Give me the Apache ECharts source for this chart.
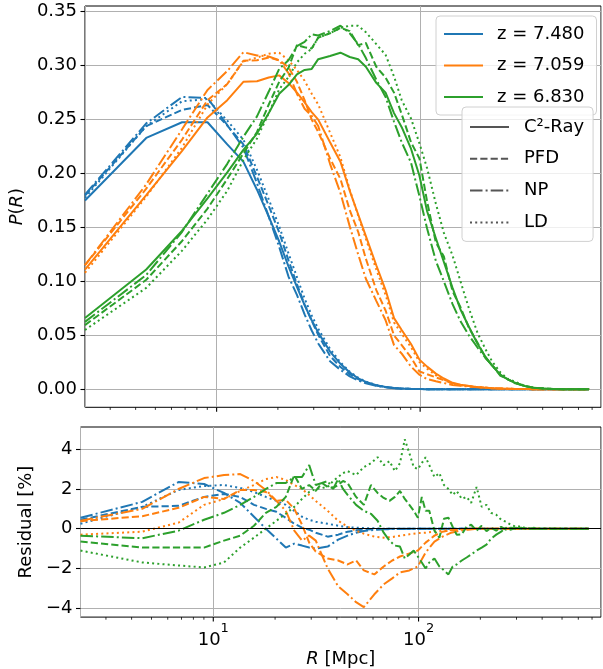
<!DOCTYPE html>
<html><head><meta charset="utf-8">
<script src="https://cdn.jsdelivr.net/npm/echarts@6/dist/echarts.min.js"></script>
<style>html,body{margin:0;padding:0;background:#fff}#c{width:603px;height:669px}</style>
</head><body><div id="c"></div>
<script>
// ---------------- data ----------------
const R = [2.255,4.51,6.765,9.02,11.28,13.53,15.79,18.04,20.3,22.55,24.81,27.06,29.32,31.57,36.08,40.59,45.1,49.61,54.12,60.89,67.65,74.42,81.18,90.2,99.22,108.2,119.5,130.8,144.3,157.9,173.6,191.7,209.7,225.5,248.1,270.6,293.2,327,360.8,405.9,451,507.4,563.8,620.1,676.5];
// finer R sampling used for the (noisy) z = 6.830 residual curves
const Rg = [2.255,4.51,6.765,9.02,11.28,13.53,15.79,18.04,20.3,22.55,24.81,27.06,29.32,31.57,33.83,36.08,38.34,40.59,42.85,45.1,49.61,54.12,58.63,63.14,67.65,72.16,76.67,81.18,85.69,90.2,94.71,99.22,103.7,108.2,112.8,119.5,126.3,133,139.8,146.6,153.3,162.4,171.4,180.4,191.7,203,214.2,225.5,239,252.6,266.1,281.9,297.7,315.7,338.3,360.8,394.6,428.5,473.6,541.2,608.9,676.5];

const zLabels = ['z = 7.480','z = 7.059','z = 6.830'];
const methodLabels = ['C\u00b2-Ray','PFD','NP','LD'];

const blueC2  = [0.175,0.233,0.2475,0.2475,0.227,0.211,0.185,0.160,0.137,0.114,0.095,0.078,0.064,0.0525,0.035,0.0236,0.0155,0.0102,0.0068,0.0038,0.0021,0.0012,0.0007,0.0004,0.0002,0.0001,0.0001,0,0,0,0,0,0,0,0,0,0,0,0,0,0,0,0,0,0];
const bluePFD = [0.1795,0.244,0.259,0.2635,0.2445,0.227,0.197,0.170,0.1455,0.1195,0.0975,0.0785,0.0635,0.0505,0.031,0.0206,0.014,0.0094,0.0063,0.0035,0.002,0.0011,0.0006,0.0003,0.0002,0.0001,0.0001,0,0,0,0,0,0,0,0,0,0,0,0,0,0,0,0,0,0];
const blueNP  = [0.1805,0.2465,0.271,0.270,0.245,0.224,0.191,0.160,0.132,0.1045,0.0875,0.0695,0.0545,0.0425,0.026,0.018,0.012,0.0082,0.0056,0.0032,0.0018,0.001,0.0006,0.0003,0.0002,0.0001,0,0,0,0,0,0,0,0,0,0,0,0,0,0,0,0,0,0,0];
const blueLD  = [0.1775,0.244,0.267,0.269,0.249,0.2315,0.2035,0.176,0.151,0.126,0.104,0.084,0.0685,0.056,0.0375,0.025,0.0163,0.0107,0.0071,0.004,0.0022,0.0012,0.0007,0.0004,0.0002,0.0001,0.0001,0,0,0,0,0,0,0,0,0,0,0,0,0,0,0,0,0,0];

const orangeC2  = [0.111,0.180,0.221,0.252,0.268,0.285,0.2855,0.289,0.291,0.284,0.275,0.266,0.257,0.250,0.229,0.211,0.184,0.162,0.142,0.115,0.092,0.066,0.055,0.042,0.0275,0.021,0.0145,0.010,0.006,0.0043,0.003,0.002,0.0015,0.001,0.0007,0.0005,0.0003,0.0002,0.0001,0.0001,0,0,0,0,0];
const orangePFD = [0.115,0.186,0.2315,0.268,0.283,0.3045,0.305,0.3075,0.305,0.2985,0.285,0.268,0.250,0.2385,0.214,0.195,0.166,0.146,0.121,0.092,0.073,0.050,0.041,0.0295,0.0165,0.014,0.011,0.0085,0.0052,0.0038,0.003,0.002,0.0015,0.001,0.0007,0.0005,0.0003,0.0002,0.0001,0.0001,0,0,0,0,0];
const orangeNP  = [0.115,0.190,0.241,0.2775,0.295,0.3125,0.3095,0.3085,0.305,0.293,0.274,0.260,0.2535,0.244,0.209,0.182,0.151,0.125,0.1025,0.082,0.064,0.041,0.033,0.021,0.0135,0.0095,0.0075,0.0058,0.004,0.0033,0.0025,0.002,0.0015,0.001,0.0007,0.0005,0.0003,0.0002,0.0001,0.0001,0,0,0,0,0];
const orangeLD  = [0.108,0.1785,0.224,0.264,0.283,0.304,0.3075,0.311,0.312,0.305,0.296,0.286,0.274,0.264,0.238,0.215,0.185,0.161,0.1395,0.111,0.0875,0.062,0.0515,0.039,0.0253,0.019,0.013,0.009,0.0055,0.004,0.003,0.002,0.0015,0.001,0.0007,0.0005,0.0003,0.0002,0.0001,0.0001,0,0,0,0,0];

const greenC2  = [0.066,0.111,0.147,0.177,0.201,0.222,0.237,0.256,0.274,0.282,0.292,0.296,0.297,0.306,0.309,0.312,0.308,0.306,0.299,0.284,0.275,0.256,0.243,0.223,0.198,0.165,0.140,0.118,0.094,0.074,0.058,0.042,0.030,0.022,0.0135,0.009,0.006,0.003,0.0015,0.0007,0.0003,0.0001,0,0,0];
const greenPFD = [0.0595,0.1015,0.1375,0.1675,0.195,0.2185,0.2385,0.264,0.285,0.298,0.319,0.317,0.316,0.326,0.330,0.335,0.332,0.319,0.321,0.299,0.289,0.275,0.255,0.229,0.214,0.174,0.136,0.123,0.091,0.076,0.057,0.043,0.029,0.0225,0.0135,0.009,0.006,0.003,0.0015,0.0007,0.0003,0.0001,0,0,0];
const greenNP  = [0.0625,0.106,0.146,0.1815,0.209,0.234,0.253,0.276,0.297,0.305,0.318,0.322,0.329,0.328,0.332,0.337,0.330,0.320,0.307,0.287,0.271,0.248,0.229,0.210,0.179,0.149,0.119,0.100,0.079,0.063,0.050,0.0385,0.029,0.0225,0.0125,0.0095,0.0055,0.003,0.0015,0.0007,0.0003,0.0001,0,0,0];
const greenLD  = [0.055,0.094,0.1285,0.1575,0.184,0.2125,0.2325,0.256,0.278,0.2895,0.303,0.311,0.3155,0.326,0.330,0.335,0.337,0.337,0.331,0.320,0.310,0.290,0.268,0.251,0.228,0.205,0.172,0.145,0.124,0.100,0.075,0.052,0.037,0.026,0.0155,0.0095,0.007,0.003,0.0015,0.0007,0.0003,0.0001,0,0,0];

// residuals [%] (on R)
const resBluePFD = [0.45,1.1,1.15,1.6,1.75,1.6,1.2,1.0,0.85,0.55,0.25,0.05,-0.05,-0.2,-0.4,-0.3,-0.15,-0.08,-0.05,-0.03,-0.01,0,0,0,0,0,0,0,0,0,0,0,0,0,0,0,0,0,0,0,0,0,0,0,0];
const resBlueNP  = [0.55,1.35,2.35,2.25,1.8,1.3,0.6,0,-0.5,-0.95,-0.75,-0.85,-0.95,-1.0,-0.9,-0.55,-0.35,-0.2,-0.12,-0.06,-0.03,-0.02,-0.01,0,0,0,0,0,0,0,0,0,0,0,0,0,0,0,0,0,0,0,0,0,0];
const resBlueLD  = [0.25,1.1,1.95,2.15,2.2,2.05,1.85,1.6,1.4,1.2,0.9,0.6,0.45,0.35,0.25,0.15,0.08,0.05,0.03,0.02,0,0,0,0,0,0,0,0,0,0,0,0,0,0,0,0,0,0,0,0,0,0,0,0,0];
const resOrangePFD = [0.38,0.63,1.05,1.6,1.5,1.95,1.95,1.85,1.4,1.45,1.0,0.2,-0.7,-1.15,-1.5,-1.6,-1.8,-1.6,-2.1,-2.3,-1.9,-1.6,-1.4,-1.25,-1.1,-0.7,-0.35,-0.15,-0.08,-0.05,0,0,0,0,0,0,0,0,0,0,0,0,0,0,0];
const resOrangeNP  = [0.4,1.0,2.0,2.55,2.7,2.75,2.4,1.95,1.4,0.9,-0.1,-0.6,-0.35,-0.6,-2.0,-2.9,-3.3,-3.7,-3.95,-3.3,-2.8,-2.5,-2.2,-2.1,-1.9,-1.2,-0.65,-0.4,-0.2,-0.1,-0.05,0,0,0,0,0,0,0,0,0,0,0,0,0,0];
const resOrangeLD  = [-0.3,-0.15,0.3,1.2,1.5,1.9,2.2,2.5,2.6,2.45,2.2,2.0,1.7,1.4,0.9,0.4,0.1,-0.1,-0.25,-0.4,-0.45,-0.42,-0.35,-0.28,-0.22,-0.2,-0.15,-0.1,-0.06,-0.03,0,0,0,0,0,0,0,0,0,0,0,0,0,0,0];
// residuals [%] (on Rg)
const resGreenPFD = [-0.65,-0.95,-0.95,-0.95,-0.6,-0.35,0.15,0.8,1.1,1.6,2.7,2.0,2.2,1.9,2.3,2.1,2.05,2.2,2.4,2.3,1.6,1.2,2.2,1.8,1.55,1.4,1.6,1.9,1.5,1.2,0.9,0.55,1.6,0.9,0.9,-0.1,-0.45,0.5,0.55,0.1,-0.3,-0.28,0.1,0.2,-0.1,0.15,-0.12,0.05,-0.1,0.1,-0.05,0.05,0,0.05,-0.03,0.02,0,0,0,0,0,0];
const resGreenNP  = [-0.35,-0.48,-0.1,0.45,0.8,1.2,1.6,2.0,2.3,2.3,2.6,2.6,3.2,2.2,2.3,2.4,2.0,2.5,2.0,1.7,1.2,0.9,0.75,0.4,-0.2,-0.6,-0.85,-0.9,-1.5,-1.3,-1.1,-1.4,-1.7,-2.0,-1.7,-1.5,-1.9,-2.1,-2.3,-1.9,-1.8,-1.6,-1.45,-1.3,-1.1,-0.95,-0.8,-0.5,-0.3,-0.15,0.05,-0.05,0.05,0,0.02,0,0,0,0,0,0,0];
const resGreenLD  = [-1.1,-1.7,-1.85,-1.95,-1.7,-0.95,-0.45,0,0.4,0.75,1.1,1.5,1.85,2.0,2.05,2.1,2.4,2.6,2.8,2.9,2.7,3.1,3.3,3.6,3.2,3.4,2.9,3.3,4.5,3.8,3.1,3.0,3.3,3.6,3.2,2.6,2.8,2.2,2.0,1.7,1.9,1.5,1.6,1.3,2.1,1.1,1.2,0.8,0.7,0.45,0.35,0.2,0.1,0.12,0,0.05,0,0.02,0,0,0,0];

const majorTicksX = [10, 100];
const minorTicksX = [3,4,5,6,7,8,9,20,30,40,50,60,70,80,90,200,300,400,500,600,700];
const topTicksY = [0,0.05,0.10,0.15,0.20,0.25,0.30,0.35];
const botTicksY = [-4,-2,0,2,4];

// ---------------- style ----------------
const FONT = 'DejaVu Sans';
const C = ['#1f77b4', '#ff7f0e', '#2ca02c'];
const DASH = { c2: 'solid', pfd: [7.2, 3.1], np: [12.5, 3.1, 2, 3.1], ld: [2, 3.2] };
const LW = 2;
const X_MIN = 2.255, X_MAX = 774;

const groups = [
  { name: zLabels[0], color: C[0], c2: blueC2, pfd: bluePFD, np: blueNP, ld: blueLD, rx: R, rp: resBluePFD, rn: resBlueNP, rl: resBlueLD },
  { name: zLabels[1], color: C[1], c2: orangeC2, pfd: orangePFD, np: orangeNP, ld: orangeLD, rx: R, rp: resOrangePFD, rn: resOrangeNP, rl: resOrangeLD },
  { name: zLabels[2], color: C[2], c2: greenC2, pfd: greenPFD, np: greenNP, ld: greenLD, rx: Rg, rp: resGreenPFD, rn: resGreenNP, rl: resGreenLD }
];

const pairs = (xs, vals) => xs.map((r, i) => [r, vals[i]]);

function lineSeries(name, xs, vals, color, dash, gi) {
  return {
    type: 'line', name, xAxisIndex: gi, yAxisIndex: gi,
    data: pairs(xs, vals), symbol: 'none', showSymbol: false,
    lineStyle: { color, width: LW, type: dash, cap: 'butt' },
    itemStyle: { color }, animation: false, z: 3, silent: true
  };
}

const series = [];
series.push({
  type: 'line', name: '_zero', xAxisIndex: 1, yAxisIndex: 1, data: [], silent: true, z: 2,
  markLine: { silent: true, symbol: 'none', label: { show: false }, animation: false,
    lineStyle: { color: '#000', width: 1.2, type: 'solid' }, data: [{ yAxis: 0 }] }
});
groups.forEach(g => {
  series.push(lineSeries(g.name, R, g.c2, g.color, DASH.c2, 0));
  series.push(lineSeries(g.name + ' PFD', R, g.pfd, g.color, DASH.pfd, 0));
  series.push(lineSeries(g.name + ' NP', R, g.np, g.color, DASH.np, 0));
  series.push(lineSeries(g.name + ' LD', R, g.ld, g.color, DASH.ld, 0));
});
groups.forEach(g => {
  series.push(lineSeries(g.name + ' rPFD', g.rx, g.rp, g.color, DASH.pfd, 1));
  series.push(lineSeries(g.name + ' rNP', g.rx, g.rn, g.color, DASH.np, 1));
  series.push(lineSeries(g.name + ' rLD', g.rx, g.rl, g.color, DASH.ld, 1));
});
const mDash = [DASH.c2, DASH.pfd, DASH.np, DASH.ld];
methodLabels.forEach((m, i) => {
  series.push({ type: 'line', name: m, data: [], symbol: 'none', xAxisIndex: 0, yAxisIndex: 0,
    lineStyle: { color: '#555', width: LW, type: mDash[i] }, itemStyle: { color: '#555' } });
});
const tickData = majorTicksX.map(v => [v, 1]).concat(minorTicksX.map(v => [v, 0]));
[0, 1].forEach(gi => {
  series.push({
    type: 'custom', xAxisIndex: gi, yAxisIndex: gi, data: tickData, silent: true, clip: false, z: 5,
    renderItem(params, api) {
      const x = api.coord([api.value(0), 0])[0];
      const cs = params.coordSys;
      const yb = cs.y + cs.height;
      const major = api.value(1) === 1;
      return { type: 'line', shape: { x1: x, y1: yb, x2: x, y2: yb + (major ? 4.5 : 2.6) },
        style: { stroke: '#000', lineWidth: major ? 1.1 : 0.8 } };
    }
  });
});

const supFmt = v => {
  const e = Math.round(Math.log10(v));
  if (Math.abs(Math.log10(v) - e) > 1e-6 || (e !== 1 && e !== 2)) return '';
  return '{b|10}{s|' + e + '}';
};

function xAxisCfg(gi, showLabels) {
  return {
    type: 'log', logBase: 10, gridIndex: gi, min: X_MIN, max: X_MAX,
    axisLine: { show: false }, axisTick: { show: false },
    splitLine: { show: true, lineStyle: { color: '#b0b0b0', width: 1 } },
    minorSplitLine: { show: false },
    axisLabel: { show: showLabels, formatter: supFmt, margin: 5, showMinLabel: false, showMaxLabel: false,
      color: '#000', fontFamily: FONT, fontSize: 18,
      rich: { b: { fontSize: 18, fontFamily: FONT, color: '#000', verticalAlign: 'bottom', lineHeight: 27 },
              s: { fontSize: 13, fontFamily: FONT, color: '#000', verticalAlign: 'top', lineHeight: 27 } } },
    name: showLabels ? '{i|R} [Mpc]' : '', nameLocation: 'middle', nameGap: 26,
    nameTextStyle: { fontFamily: FONT, fontSize: 18, color: '#000', rich: { i: { fontStyle: 'italic', fontFamily: FONT, fontSize: 18 } } }
  };
}

function yAxisCfg(gi, min, max, ticks, fmt, name, gap) {
  return {
    type: 'value', gridIndex: gi, min, max,
    axisLine: { show: false },
    axisTick: { show: true, length: 4.5, customValues: ticks, lineStyle: { color: '#000', width: 1.1 } },
    axisLabel: { customValues: ticks, formatter: fmt, margin: 8, color: '#000', fontFamily: FONT, fontSize: 18 },
    splitLine: { show: true, lineStyle: { color: '#b0b0b0', width: 1 } },
    name, nameLocation: 'middle', nameGap: gap,
    nameTextStyle: { fontFamily: FONT, fontSize: 18, color: '#000', rich: { i: { fontStyle: 'italic', fontFamily: FONT, fontSize: 18 } } }
  };
}

const legendCommon = {
  orient: 'vertical', itemWidth: 39, itemHeight: 14, selectedMode: false,
  backgroundColor: 'rgba(255,255,255,0.8)', borderColor: '#d0d0d0', borderWidth: 1, borderRadius: 4,
  itemStyle: { opacity: 0 },
  textStyle: { fontFamily: FONT, fontSize: 18, color: '#000' }
};

const option = {
  animation: false,
  backgroundColor: '#fff',
  grid: [
    { left: 80.5, top: 6, right: 2, height: 401.3, show: true, borderColor: '#000', borderWidth: 1 },
    { left: 80.5, top: 427, right: 2, height: 191.3, show: true, borderColor: '#000', borderWidth: 1 }
  ],
  xAxis: [xAxisCfg(0, false), xAxisCfg(1, true)],
  yAxis: [
    yAxisCfg(0, -0.0167, 0.3553, topTicksY, v => v.toFixed(2), '{i|P}({i|R})', 52),
    yAxisCfg(1, -4.45, 5.12, botTicksY, v => (v < 0 ? '\u2212' + Math.abs(v) : String(v)), 'Residual [%]', 24)
  ],
  legend: [
    Object.assign({}, legendCommon, { data: zLabels, left: 436, top: 16, itemGap: 13.5,
      padding: [9, 12, 9, 7], textStyle: Object.assign({}, legendCommon.textStyle, { padding: [0, 0, 0, 9] }) }),
    Object.assign({}, legendCommon, { data: methodLabels, left: 462, top: 107, itemGap: 13.8,
      padding: [11, 9, 10, 7], textStyle: Object.assign({}, legendCommon.textStyle, { padding: [0, 0, 0, 10] }) })
  ],
  series
};

const chart = echarts.init(document.getElementById('c'), null, { renderer: 'canvas' });
chart.setOption(option);
</script></body></html>
